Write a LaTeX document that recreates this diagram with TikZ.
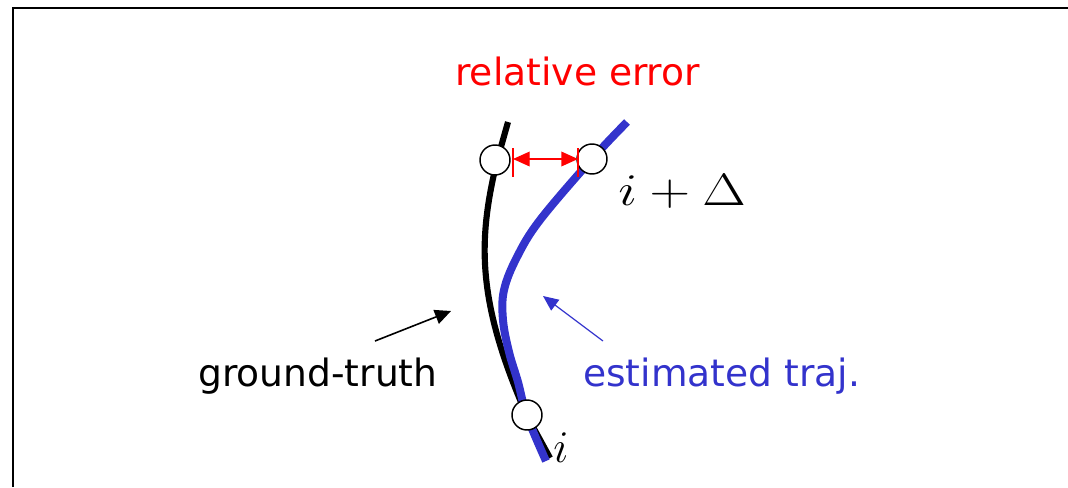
\RequirePackage{fix-cm}
\documentclass[tikz,border=0pt]{standalone}
\usepackage{fontspec}
\setsansfont{DejaVu Sans}
\usetikzlibrary{arrows.meta}
\definecolor{trajblue}{RGB}{51,51,204}
\begin{document}
\begin{tikzpicture}[x=0.75pt,y=-0.75pt,
  lbl/.style={font=\sffamily\fontsize{28.2}{32}\selectfont, inner sep=0pt, anchor=base west},
  mlbl/.style={font=\fontsize{34}{40}\selectfont, inner sep=0pt, anchor=base west},
  pose/.style={circle, draw=black, line width=1.1pt, fill=white, minimum size=22.5pt, inner sep=0pt},
  gtline/.style={line width=4.6pt, black},
  estline/.style={line width=6pt, trajblue},
  tick/.style={red, line width=0.9pt}
]
\useasboundingbox (0,0) rectangle (1068,487);
% frame (top and left edges)
\draw[line width=1.6pt] (13,487) -- (13,8) -- (1068,8);

% ground truth
\draw[gtline] (508,122) -- (497,161) .. controls (478,240) and (476,300) .. (527,416) -- (550,458);
% estimated trajectory
\draw[estline] plot[smooth, tension=0.6] coordinates {(627,122) (592,159) (540,220) (517,257) (504,290) (503,320) (509,352) (518,382) (527,416) (546,461)};

% poses
\node[pose] (gtj) at (495,160) {};
\node[pose] (estj) at (592,159) {};
\node[pose] (pi) at (527,415) {};

% relative error
\coordinate (ra) at (513,159);
\coordinate (rb) at (578,159);
\draw[tick] (513,148) -- (513,177);
\draw[tick] (578,148) -- (578,177);
\draw[red, line width=1pt, {Triangle[length=12.5pt,width=11pt]}-{Triangle[length=12.5pt,width=11pt]}] (ra) -- (rb);

% labels
\node[lbl, text=red] (rel) at (455,85) {relative error};
\node[lbl] (gt) at (198,386) {ground-truth};
\node[lbl, text=trajblue] (est) at (583,386) {estimated traj.};
\node[mlbl] (idelta) at (618,205) {\scalebox{1.24}[1]{$i+\Delta$}};
\node[mlbl] (ilbl) at (553,462) {$i$};

% pointer arrows
\coordinate (gtp) at (451,311);
\coordinate (estp) at (543,296);
\draw[line width=1.2pt, -{Triangle[length=12pt,width=11pt]}] (375,341) -- (gtp);
\draw[trajblue, line width=0.9pt, -{Triangle[length=11.5pt,width=10pt]}] (603,341) -- (estp);
\end{tikzpicture}
\end{document}
